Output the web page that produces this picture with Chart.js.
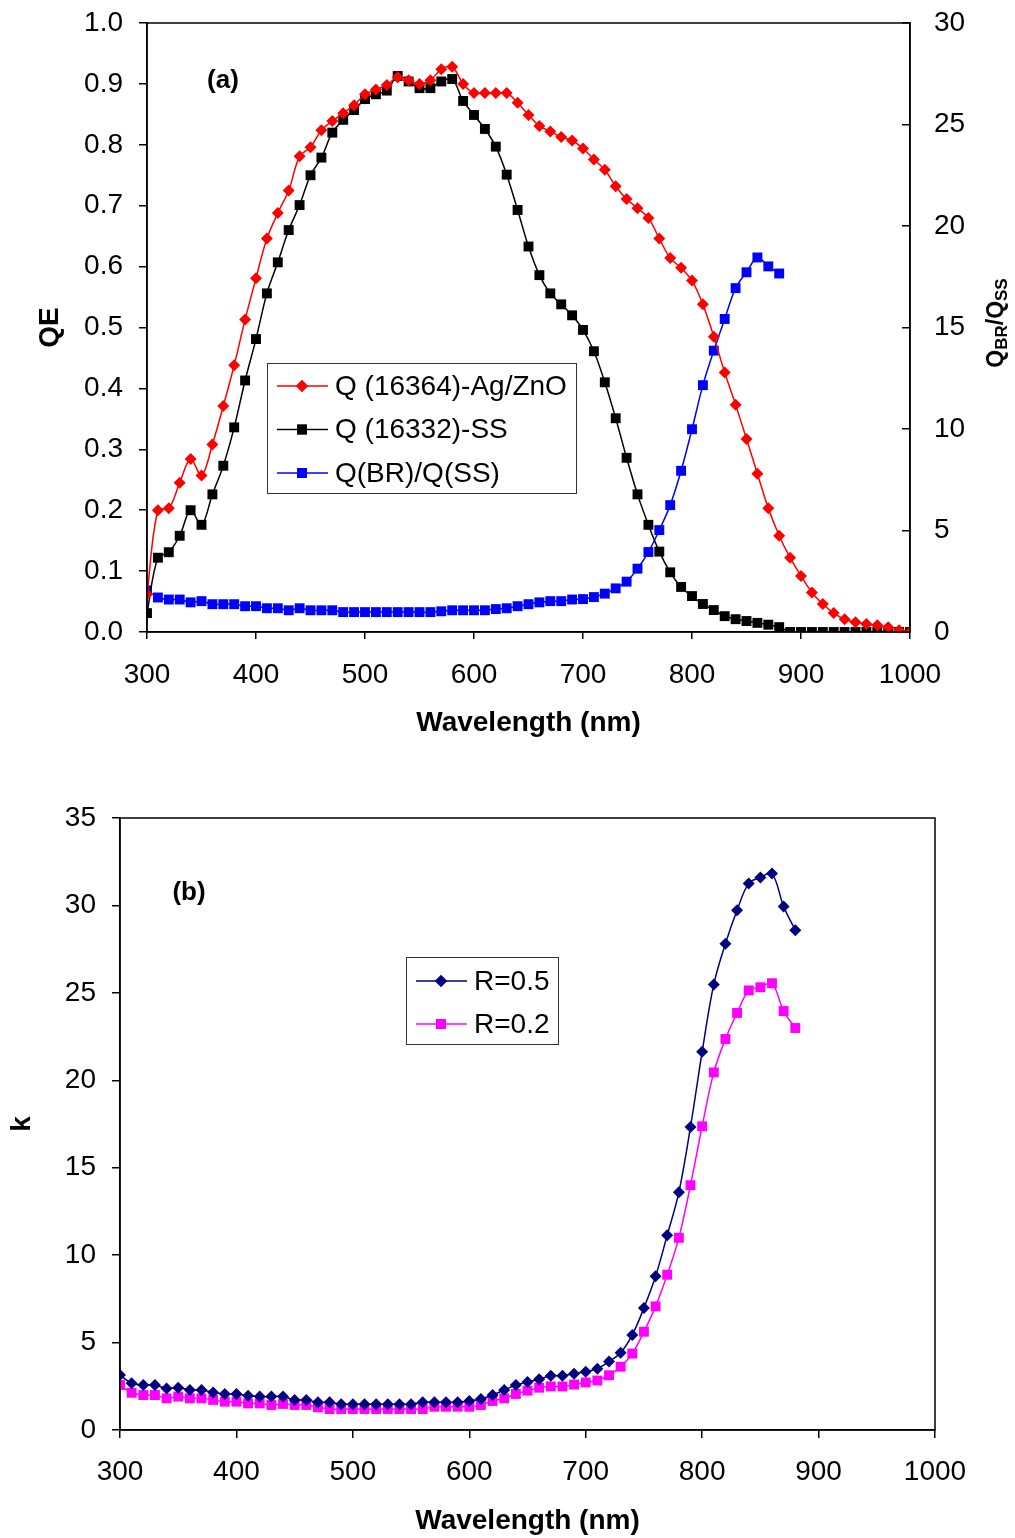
<!DOCTYPE html>
<html>
<head>
<meta charset="utf-8">
<script src="https://cdn.jsdelivr.net/npm/chart.js@4.4.1/dist/chart.umd.min.js"></script>
<style>
  body { margin: 0; background: #fff; }
  canvas { position: absolute; left: 0; }
  #qe { top: 0; }
  #kk { top: 760px; }
</style>
</head>
<body>
<canvas id="qe" width="1015" height="760"></canvas>
<canvas id="kk" width="1015" height="778"></canvas>
<script>
// wavelengths (nm)
var waveA = [300,310,320,330,340,350,360,370,380,390,400,410,420,430,440,450,460,470,480,490,
  500,510,520,530,540,550,560,570,580,590,600,610,620,630,640,650,660,670,680,690,
  700,710,720,730,740,750,760,770,780,790,800,810,820,830,840,850,860,870,880,890,
  900,910,920,930,940,950,960,970,980,990,1000];
var waveB = [300,310,320,330,340,350,360,370,380,390,400,410,420,430,440,450,460,470,480,490,
  500,510,520,530,540,550,560,570,580,590,600,610,620,630,640,650,660,670,680,690,
  700,710,720,730,740,750,760,770,780,790,800,810,820,830,840,850,860,870,880];

// (a) QE curves
var qAgZnO = [0.062,0.200,0.203,0.245,0.284,0.257,0.308,0.371,0.438,0.513,0.581,0.646,0.688,0.725,0.781,0.796,0.824,0.839,0.852,0.865,
  0.883,0.891,0.898,0.911,0.906,0.900,0.906,0.924,0.928,0.900,0.885,0.885,0.885,0.885,0.869,0.849,0.831,0.822,0.813,0.807,
  0.794,0.776,0.759,0.732,0.711,0.696,0.680,0.646,0.614,0.598,0.577,0.538,0.485,0.426,0.373,0.317,0.260,0.203,0.158,0.122,
  0.092,0.065,0.046,0.031,0.021,0.016,0.013,0.011,0.008,0.003,0.000];
var qSS = [0.031,0.122,0.131,0.158,0.200,0.176,0.226,0.273,0.336,0.413,0.481,0.556,0.607,0.660,0.701,0.750,0.779,0.820,0.841,0.857,
  0.875,0.883,0.889,0.913,0.904,0.893,0.893,0.904,0.908,0.872,0.849,0.826,0.797,0.751,0.693,0.633,0.586,0.556,0.538,0.520,
  0.496,0.461,0.410,0.351,0.286,0.226,0.176,0.132,0.098,0.074,0.059,0.046,0.036,0.026,0.021,0.018,0.015,0.012,0.008,0.000,
  0,0,0,0,0,0,0,0,0,0,0];
var qRatio = [2.05,1.70,1.60,1.60,1.46,1.52,1.37,1.37,1.37,1.27,1.27,1.17,1.17,1.07,1.17,1.07,1.07,1.07,0.98,0.98,
  0.98,0.98,0.98,0.98,0.98,0.98,0.98,1.02,1.07,1.07,1.07,1.07,1.13,1.17,1.27,1.37,1.46,1.52,1.52,1.60,
  1.62,1.72,1.89,2.15,2.48,3.12,3.94,5.02,6.25,7.94,9.99,12.16,13.86,15.42,16.94,17.72,18.45,18.01,17.66];

// (b) k curves
var kR05 = [3.14,2.67,2.57,2.57,2.38,2.42,2.29,2.29,2.15,2.06,2.06,1.96,1.91,1.91,1.91,1.72,1.72,1.58,1.58,1.47,
  1.47,1.47,1.47,1.47,1.47,1.47,1.58,1.58,1.58,1.58,1.66,1.77,2.00,2.29,2.57,2.74,2.90,3.10,3.10,3.22,
  3.33,3.51,3.92,4.42,5.44,6.98,8.79,11.14,13.59,17.33,21.63,25.48,27.81,29.72,31.26,31.60,31.82,29.94,28.58];
var kR02 = [2.57,2.13,2.00,2.00,1.81,1.91,1.81,1.81,1.72,1.62,1.62,1.52,1.52,1.43,1.49,1.43,1.43,1.30,1.20,1.20,
  1.20,1.20,1.20,1.20,1.20,1.20,1.20,1.33,1.33,1.33,1.33,1.43,1.66,1.81,2.06,2.25,2.42,2.49,2.49,2.60,
  2.72,2.83,3.13,3.62,4.37,5.62,7.07,8.88,10.99,14.00,17.37,20.45,22.36,23.85,25.14,25.32,25.55,23.96,22.99];

var xTicks = [300,400,500,600,700,800,900,1000];

function pts(xs, ys){
  return ys.map(function(v, i){ return {x: xs[i], y: v}; });
}

var FONT = "'Liberation Sans', Arial, sans-serif";
Chart.defaults.font.family = FONT;
Chart.defaults.color = '#000';
Chart.defaults.animation = false;

function line(label, data, color, style, r, axis){
  return {
    label: label, data: data, yAxisID: axis || 'y',
    borderColor: color, backgroundColor: color, borderWidth: 1.5,
    pointStyle: style, pointRadius: r, pointHoverRadius: r, pointBorderWidth: 0,
    tension: 0.35, fill: false
  };
}

// fixed axis size, no extra label padding pushing the plot area
function fixSize(w, h){
  return function(s){
    if (w) s.width = w;
    if (h) s.height = h;
    s.paddingTop = 0; s.paddingBottom = 0; s.paddingLeft = 0; s.paddingRight = 0;
  };
}

function xAxis(h, tl, pad, titlePad){
  return {
    type: 'linear', min: 300, max: 1000,
    afterBuildTicks: function(s){ s.ticks = xTicks.map(function(v){ return {value: v}; }); },
    afterFit: fixSize(0, h),
    border: { color: '#000', width: 1.5 },
    grid: { drawOnChartArea: false, tickLength: tl, color: '#000', lineWidth: 1.5 },
    ticks: { font: { size: 28 }, padding: pad, maxRotation: 0, callback: function(v){ return String(v); } },
    title: { display: true, text: 'Wavelength (nm)', font: { size: 28, weight: 'bold' }, padding: { top: 0, bottom: titlePad } }
  };
}

// frame, legend and extra labels
function decor(opts){
  return {
    id: 'decor',
    afterDatasetsDraw: function(chart){
      var c = chart.ctx, a = chart.chartArea;
      c.save();
      c.strokeStyle = '#000'; c.lineWidth = 1.5;
      c.strokeRect(a.left, a.top, a.right - a.left, a.bottom - a.top);

      // legend box
      var L = opts.legend;
      c.fillStyle = '#fff';
      c.fillRect(L.x, L.y, L.w, L.h);
      c.strokeStyle = '#333'; c.lineWidth = 1;
      c.strokeRect(L.x + 0.5, L.y + 0.5, L.w, L.h);
      c.font = '28px ' + FONT;
      c.textBaseline = 'middle'; c.textAlign = 'left';
      chart.data.datasets.forEach(function(ds, i){
        var y = L.y + L.first + i * L.step;
        c.strokeStyle = ds.borderColor; c.lineWidth = 1.5;
        c.beginPath(); c.moveTo(L.x + 10, y); c.lineTo(L.x + 61, y); c.stroke();
        c.fillStyle = ds.backgroundColor;
        Chart.helpers.drawPoint(c, { pointStyle: ds.pointStyle, radius: ds.pointRadius, rotation: 0, borderWidth: 0 }, L.x + 35, y);
        c.fill();
        c.fillStyle = '#000';
        c.fillText(ds.label, L.x + 68, y + 1);
      });

      // panel tag
      c.font = 'bold 26px ' + FONT;
      c.textAlign = 'center';
      c.fillText(opts.tag.text, opts.tag.x, opts.tag.y);

      // right-axis title with subscripts, reading bottom to top
      if (opts.rightTitle) {
        var parts = [['Q', 23, 0], ['BR', 17, 4], ['/Q', 23, 0], ['SS', 17, 4]];
        c.translate(opts.rightTitle.x, opts.rightTitle.y);
        c.rotate(-Math.PI / 2);
        c.textAlign = 'left'; c.textBaseline = 'alphabetic';
        var total = 0;
        parts.forEach(function(p){ c.font = 'bold ' + p[1] + 'px ' + FONT; total += c.measureText(p[0]).width; });
        var x = -total / 2;
        parts.forEach(function(p){
          c.font = 'bold ' + p[1] + 'px ' + FONT;
          c.fillText(p[0], x, 6 + p[2]);
          x += c.measureText(p[0]).width;
        });
      }
      c.restore();
    }
  };
}

new Chart(document.getElementById('qe'), {
  type: 'line',
  data: { datasets: [
    line('Q (16364)-Ag/ZnO', pts(waveA, qAgZnO), '#ff0000', 'rectRot', 6),
    line('Q (16332)-SS', pts(waveA, qSS), '#000000', 'rect', 7),
    line('Q(BR)/Q(SS)', pts(waveB, qRatio), '#0000ff', 'rect', 7, 'y2')
  ]},
  options: {
    responsive: false, devicePixelRatio: 1,
    layout: { padding: { top: 23, left: 0, right: 0, bottom: 0 } },
    plugins: { legend: { display: false }, tooltip: { enabled: false } },
    scales: {
      x: xAxis(128, 7, 19, 20),
      y: {
        min: 0, max: 1.0,
        afterFit: fixSize(147, 0),
        border: { color: '#000', width: 1.5 },
        grid: { drawOnChartArea: false, tickLength: 8, color: '#000', lineWidth: 1.5 },
        ticks: { stepSize: 0.1, font: { size: 28 }, padding: 16, callback: function(v){ return v.toFixed(1); } },
        title: { display: true, text: 'QE', font: { size: 28, weight: 'bold' }, padding: { top: 33 } }
      },
      y2: {
        position: 'right', min: 0, max: 30,
        afterFit: fixSize(105, 0),
        border: { color: '#000', width: 1.5 },
        grid: { drawOnChartArea: false, tickLength: -8, color: '#000', lineWidth: 1.5 },
        ticks: { stepSize: 5, font: { size: 28 }, padding: 32 }
      }
    }
  },
  plugins: [decor({
    legend: { x: 267, y: 363, w: 309, h: 130, first: 23, step: 43.5 },
    tag: { text: '(a)', x: 223, y: 81 },
    rightTitle: { x: 997, y: 323 }
  })]
});

new Chart(document.getElementById('kk'), {
  type: 'line',
  data: { datasets: [
    line('R=0.5', pts(waveB, kR05), '#000080', 'rectRot', 6),
    line('R=0.2', pts(waveB, kR02), '#ff00ff', 'rect', 7)
  ]},
  options: {
    responsive: false, devicePixelRatio: 1,
    layout: { padding: { top: 58, left: 0, right: 80, bottom: 0 } },
    plugins: { legend: { display: false }, tooltip: { enabled: false } },
    scales: {
      x: xAxis(108, 8, 17, 0),
      y: {
        min: 0, max: 35,
        afterFit: fixSize(120, 0),
        border: { color: '#000', width: 1.5 },
        grid: { drawOnChartArea: false, tickLength: 8, color: '#000', lineWidth: 1.5 },
        ticks: { stepSize: 5, font: { size: 28 }, padding: 16 },
        title: { display: true, text: 'k', font: { size: 28, weight: 'bold' }, padding: { top: 5 } }
      }
    }
  },
  plugins: [decor({
    legend: { x: 406, y: 957 - 760, w: 152, h: 87, first: 24, step: 43 },
    tag: { text: '(b)', x: 189, y: 893 - 760 }
  })]
});
</script>
</body>
</html>
